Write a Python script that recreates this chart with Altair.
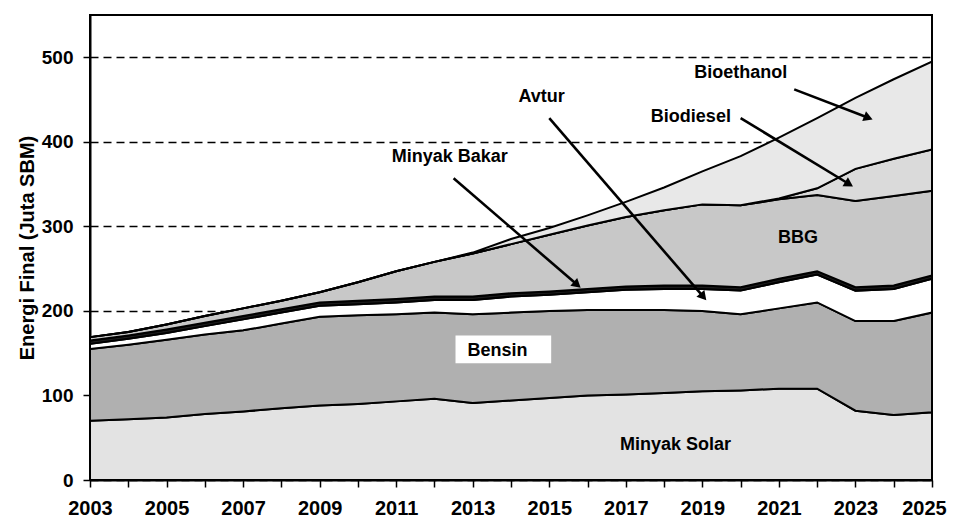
import math
import altair as alt
import pandas as pd

# ---------------- data ----------------
years = list(range(2003, 2026))
series_names = ["Minyak Solar", "Bensin", "Avtur", "Minyak Bakar", "BBG", "Biodiesel", "Bioethanol"]

minyak_solar = [70, 72, 74, 78, 81, 85, 88, 90, 93, 96, 91, 94, 97, 100, 101, 103, 105, 106, 108, 108, 82, 77, 80]
bensin = [85, 88, 92, 94, 96, 100, 105, 105, 103, 102, 105, 104, 103, 101, 100, 98, 95, 90, 95, 102, 106, 111, 118]
avtur = [6, 7, 8, 10, 13, 13, 13, 13, 14, 15, 17, 19, 19, 21, 24, 25, 26, 28, 31, 33, 36, 38, 40]
minyak_bakar = [4, 4, 4, 4, 4, 4, 4, 4, 4, 4, 4, 4, 4, 4, 4, 4, 4, 4, 4, 4, 4, 4, 4]
bbg = [4, 4, 6, 8, 9, 10, 12, 22, 33, 41, 51, 58, 67, 75, 82, 89, 96, 97, 94, 90, 102, 106, 100]
biodiesel = [0] * 18 + [1, 8, 38, 44, 49]
bioethanol = [0] * 10 + [1, 6, 8, 12, 18, 27, 39, 58, 72, 83, 84, 94, 104]

series_values = [minyak_solar, bensin, avtur, minyak_bakar, bbg, biodiesel, bioethanol]
fills = ["#e3e3e3", "#b0b0b0", "#ffffff", "#1a1a1a", "#c8c8c8", "#dadada", "#e8e8e8"]

x_ticks = years
y_ticks = [0, 100, 200, 300, 400, 500]

# labels placed in data coordinates (year, value)
label_text = ["Bioethanol", "Avtur", "Biodiesel", "Minyak Bakar", "BBG", "Bensin", "Minyak Solar"]
label_x = [2020.0, 2014.8, 2018.7, 2012.4, 2021.5, 2013.65, 2018.3]
label_y = [481, 453, 429, 382, 286, 153, 41]

# arrows: start (x, y) -> end (x2, y2)
arrow_x = [2021.4, 2020.0, 2015.0, 2012.5]
arrow_y = [462, 428, 428, 357]
arrow_x2 = [2023.3, 2022.8, 2019.0, 2015.7]
arrow_y2 = [429, 351, 218, 232]

# white box behind "Bensin"
box_x, box_x2, box_y, box_y2 = [2012.55], [2015.05], [138], [171]

# ---------------- tables ----------------
rows = []
for k, (name, vals) in enumerate(zip(series_names, series_values)):
    for yr, v in zip(years, vals):
        rows.append({"year": yr, "value": v, "series": name, "order": k})
df = pd.DataFrame(rows)

W, H = 842, 465
XDOM, YDOM = [2003, 2025], [0, 550]
px_year = W / (XDOM[1] - XDOM[0])
px_unit = H / (YDOM[1] - YDOM[0])

arrows = pd.DataFrame({"x": arrow_x, "y": arrow_y, "x2": arrow_x2, "y2": arrow_y2})
arrows["angle"] = [
    (math.degrees(math.atan2((b - a) * px_year, (d - c) * px_unit)) + 360) % 360
    for a, b, c, d in zip(arrow_x, arrow_x2, arrow_y, arrow_y2)
]
labels = pd.DataFrame({"x": label_x, "y": label_y, "text": label_text})
box = pd.DataFrame({"x": box_x, "x2": box_x2, "y": box_y, "y2": box_y2})

FONT = "Liberation Sans"
xscale = alt.Scale(domain=XDOM, nice=False, zero=False)
yscale = alt.Scale(domain=YDOM, nice=False)

xaxis = alt.Axis(values=x_ticks, format="d", title=None, grid=False,
                 labelExpr="datum.value % 2 == 1 ? datum.label : ''",
                 tickSize=7, tickColor="black", tickWidth=1.5,
                 domainColor="black", domainWidth=2,
                 labelFont=FONT, labelFontSize=20, labelFontWeight="bold",
                 labelColor="black", labelPadding=11, labelFlush=False,
                 labelOffset={"condition": {"test": "datum.value == 2025", "value": -8}, "value": 0})
yaxis = alt.Axis(values=y_ticks, title="Energi Final (Juta SBM)",
                 grid=True, gridColor="black", gridDash=[8, 5], gridWidth=1.4,
                 tickSize=7, tickColor="black", tickWidth=1.5,
                 domainColor="black", domainWidth=2,
                 labelFont=FONT, labelFontSize=19, labelFontWeight="bold",
                 labelColor="black", labelPadding=10,
                 titleFont=FONT, titleFontSize=20, titleFontWeight="bold",
                 titleColor="black", titlePadding=4)


def X(field):
    return alt.X(field, scale=xscale, axis=xaxis, title=None)


def Y(field, **kw):
    return alt.Y(field, scale=yscale, axis=yaxis, title="Energi Final (Juta SBM)", **kw)


areas = alt.Chart(df).mark_area(stroke="black", strokeWidth=2, interpolate="linear").encode(
    x=X("year:Q"),
    y=Y("value:Q", stack="zero"),
    fill=alt.Fill("series:N", scale=alt.Scale(domain=series_names, range=fills), legend=None),
    order=alt.Order("order:Q", sort="ascending"),
)

box_layer = alt.Chart(box).mark_rect(fill="white").encode(
    x=X("x:Q"), x2="x2:Q", y=Y("y:Q"), y2="y2:Q",
)

text_layer = alt.Chart(labels).mark_text(
    font=FONT, fontSize=18, fontWeight="bold", color="black", align="center", baseline="middle"
).encode(
    x=X("x:Q"), y=Y("y:Q"), text="text:N",
)

arrow_lines = alt.Chart(arrows).mark_rule(color="black", strokeWidth=2.6).encode(
    x=X("x:Q"), x2="x2:Q", y=Y("y:Q"), y2="y2:Q",
)

arrow_heads = alt.Chart(arrows).mark_point(
    shape="triangle", filled=True, color="black", size=110, opacity=1
).encode(
    x=X("x2:Q"), y=Y("y2:Q"),
    angle=alt.Angle("angle:Q", scale=None),
)

chart = alt.layer(areas, box_layer, text_layer, arrow_lines, arrow_heads).properties(
    width=W, height=H,
    padding={"left": 9, "top": 7, "right": 0, "bottom": 0},
    background="white",
).configure_view(stroke="black", strokeWidth=2)

chart.save("out.html", embed_options={"renderer": "svg", "actions": False})
